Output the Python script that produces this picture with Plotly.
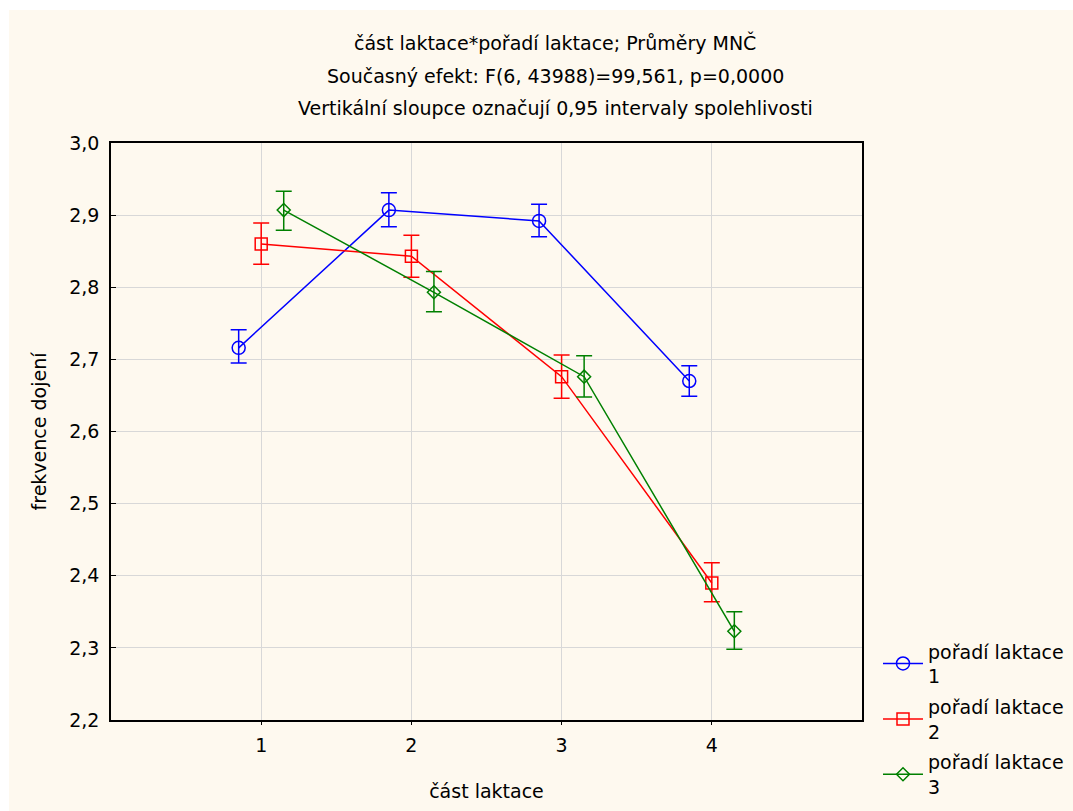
import plotly.graph_objects as go

# Lactation stage (x categories) and lactation order (series)
casti = [1, 2, 3, 4]
serie = ["pořadí laktace<br>1", "pořadí laktace<br>2", "pořadí laktace<br>3"]

# LS means and 0.95 confidence limits per series
prumer_1 = [2.716, 2.907, 2.892, 2.670]
horni_1 = [2.741, 2.931, 2.915, 2.691]
dolni_1 = [2.695, 2.884, 2.870, 2.649]

prumer_2 = [2.860, 2.843, 2.676, 2.390]
horni_2 = [2.889, 2.872, 2.706, 2.418]
dolni_2 = [2.832, 2.814, 2.646, 2.364]

prumer_3 = [2.907, 2.793, 2.676, 2.323]
horni_3 = [2.933, 2.822, 2.705, 2.350]
dolni_3 = [2.879, 2.766, 2.648, 2.298]

y_ticks = [2.2, 2.3, 2.4, 2.5, 2.6, 2.7, 2.8, 2.9, 3.0]
y_tick_text = ["2,2", "2,3", "2,4", "2,5", "2,6", "2,7", "2,8", "2,9", "3,0"]
x_tick_text = ["1", "2", "3", "4"]

title_lines = [
    "část laktace*pořadí laktace; Průměry MNČ",
    "Současný efekt: F(6, 43988)=99,561, p=0,0000",
    "Vertikální sloupce označují 0,95 intervaly spolehlivosti",
]

FONT = "DejaVu Sans, Liberation Sans, sans-serif"
FS = 19

styles = [
    dict(color="#0000FF", symbol="circle-open", size=13, shift=-0.15),
    dict(color="#FF0000", symbol="square-open", size=12, shift=0.0),
    dict(color="#008000", symbol="diamond-open", size=10, shift=0.15),
]
data = [
    (prumer_1, horni_1, dolni_1),
    (prumer_2, horni_2, dolni_2),
    (prumer_3, horni_3, dolni_3),
]

fig = go.Figure()
for k, (name, st, (m, hi, lo)) in enumerate(zip(serie, styles, data)):
    fig.add_trace(go.Scatter(
        x=[c + st["shift"] for c in casti],
        y=m,
        name=name,
        legendgroup=f"g{k}",
        mode="lines+markers",
        line=dict(color=st["color"], width=1.5),
        marker=dict(symbol=st["symbol"], size=st["size"], color=st["color"],
                    line=dict(width=1.5, color=st["color"])),
        error_y=dict(type="data", symmetric=False,
                     array=[h - v for h, v in zip(hi, m)],
                     arrayminus=[v - l for v, l in zip(m, lo)],
                     color=st["color"], thickness=1.5, width=8),
    ))

# cream page background, leaving a thin white strip at top and left
fig.add_shape(type="rect", xref="paper", yref="paper",
              x0=-102 / 751, x1=1 + 211 / 751,
              y0=-91 / 577, y1=1 + 133 / 577,
              fillcolor="#FEF9EF", line_width=0, layer="below")

for i, t in enumerate(title_lines):
    fig.add_annotation(text=t, xref="paper", yref="paper",
                       x=(555 - 111) / 751, y=1 + (100 - 32.5 * i) / 577,
                       xanchor="center", yanchor="middle", showarrow=False,
                       font=dict(size=FS, color="#000000", family=FONT))

fig.update_layout(
    width=1073, height=811,
    margin=dict(l=111, r=211, t=143, b=91, autoexpand=False),
    paper_bgcolor="#FFFFFF",
    plot_bgcolor="#FFFFFF",
    font=dict(family=FONT, size=FS, color="#000000"),
    showlegend=True,
    legend=dict(x=1 + 16 / 751, xanchor="left", y=0.152, yanchor="top",
                bgcolor="rgba(0,0,0,0)", font=dict(size=FS, family=FONT),
                itemwidth=40, tracegroupgap=3),
    xaxis=dict(range=[0, 5], tickvals=casti, ticktext=x_tick_text,
               automargin=False,
               showgrid=True, gridcolor="#D8D8D8", gridwidth=1,
               zeroline=False, showline=True, linecolor="#000000",
               linewidth=1.5, mirror=True, ticks="outside", ticklen=3,
               tickcolor="#000000", ticklabelstandoff=4,
               title=dict(text="část laktace", standoff=30,
                          font=dict(size=FS, family=FONT))),
    yaxis=dict(range=[2.2, 3.0], tickvals=y_ticks, ticktext=y_tick_text,
               automargin=False,
               showgrid=True, gridcolor="#D8D8D8", gridwidth=1,
               zeroline=False, showline=True, linecolor="#000000",
               linewidth=1.5, mirror=True, ticks="inside", ticklen=5,
               tickcolor="#000000", ticklabelstandoff=6,
               title=dict(text="frekvence dojení", standoff=18,
                          font=dict(size=FS, family=FONT))),
)

fig.write_html("out.html")
